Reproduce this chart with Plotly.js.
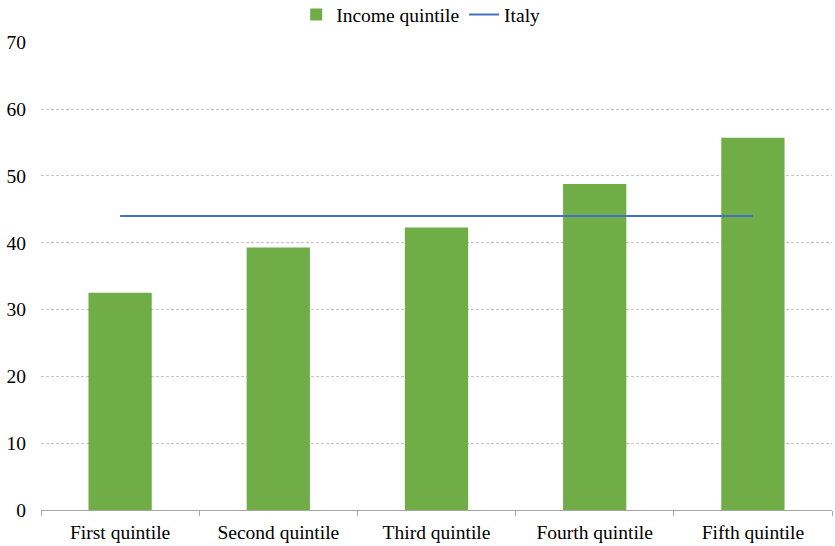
<!DOCTYPE html>
<html>
<head>
<meta charset="utf-8">
<script src="https://cdn.plot.ly/plotly-3.0.1.min.js"></script>
<style>html,body{margin:0;padding:0;background:#fff;}#chart{width:835px;height:546px;}</style>
</head>
<body>
<div id="chart"></div>
<script>
const categories = ["First quintile", "Second quintile", "Third quintile", "Fourth quintile", "Fifth quintile"];
const incomeValues = [32.5, 39.3, 42.3, 48.8, 55.7];
const italyValues = [44.0, 44.0, 44.0, 44.0, 44.0];
const yTicks = [0, 10, 20, 30, 40, 50, 60, 70];

const FONT = "'Liberation Serif', 'Times New Roman', serif";
const FS = 19.5;

const traces = [
  {type: "bar", name: "Income quintile", x: categories, y: incomeValues,
   marker: {color: "#70AD47"}},
  {type: "scatter", mode: "lines", name: "Italy", x: categories, y: italyValues,
   line: {color: "#4472C4", width: 2}}
];

const layout = {
  width: 835, height: 546,
  margin: {l: 41, r: 3, t: 42, b: 36},
  paper_bgcolor: "#fff", plot_bgcolor: "#fff",
  font: {family: FONT, size: FS, color: "#000"},
  bargap: 0.6,
  showlegend: true,
  legend: {orientation: "h", x: 0.48, xanchor: "center", y: 0.973, yanchor: "middle", yref: "container",
           font: {family: FONT, size: FS}, traceorder: "normal", tracegroupgap: 0},
  xaxis: {type: "category", showgrid: false, showline: true, linecolor: "#a6a6a6", linewidth: 1,
          ticks: "outside", tickson: "boundaries", ticklen: 5, tickcolor: "#a6a6a6",
          ticklabelstandoff: 5, automargin: false,
          tickfont: {family: FONT, size: FS}, zeroline: false},
  yaxis: {range: [0, 70.05], tickvals: yTicks, showgrid: true, gridcolor: "#c6c6c6", griddash: "3px,2px",
          gridwidth: 1, showline: false, zeroline: false, ticks: "", ticklabelstandoff: 14,
          tickfont: {family: FONT, size: FS}}
};

Plotly.newPlot("chart", traces, layout, {displayModeBar: false});
</script>
</body>
</html>
